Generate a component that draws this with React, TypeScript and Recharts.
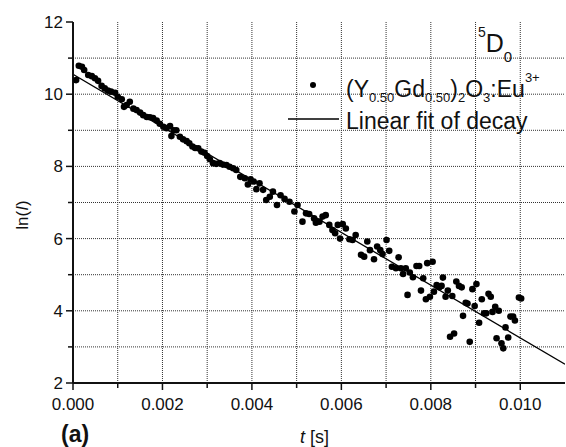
import React from "react";
import {
  ComposedChart,
  Scatter,
  Line,
  XAxis,
  YAxis,
  CartesianGrid,
} from "recharts";

// decay time t [s]
const times = [
  0.00007, 0.00013, 0.0002, 0.00025, 0.00034, 0.00042, 0.00049, 0.00056, 0.00064, 0.00071,
  0.00078, 0.00085, 0.00094, 0.001, 0.00109, 0.00114, 0.0012, 0.00127, 0.00135, 0.00142,
  0.0015, 0.00157, 0.00165, 0.00172, 0.00179, 0.00187, 0.00194, 0.00202, 0.00209, 0.00217,
  0.0022, 0.00225, 0.00231, 0.00239, 0.00246, 0.00254, 0.0026, 0.00267, 0.00273, 0.0028,
  0.00287, 0.00294, 0.003, 0.00306, 0.00313, 0.0032, 0.00328, 0.00335, 0.00343, 0.0035,
  0.00358, 0.00365, 0.00374, 0.00384, 0.00391, 0.00397, 0.00404, 0.0041, 0.00417, 0.00425,
  0.00432, 0.0044, 0.00447, 0.00456, 0.00464, 0.00473, 0.00484, 0.00495, 0.00502, 0.00513,
  0.00521, 0.00528, 0.00539, 0.00543, 0.00551, 0.00558, 0.00565, 0.00573, 0.0058, 0.00586,
  0.00592, 0.00597, 0.00603, 0.0061, 0.00618, 0.00625, 0.00632, 0.00644, 0.00651, 0.00658,
  0.00664, 0.00673, 0.0068, 0.00687, 0.00692, 0.00701, 0.00707, 0.00713, 0.00722, 0.00728,
  0.00733, 0.00738, 0.00744, 0.00748, 0.00753, 0.0076, 0.00768, 0.00774, 0.00778, 0.00783,
  0.00789, 0.00792, 0.00798, 0.00804, 0.00807, 0.00813, 0.00819, 0.00824, 0.00827, 0.00833,
  0.00838, 0.00843, 0.00848, 0.00852, 0.00857, 0.00863, 0.00869, 0.00872, 0.00878, 0.00882,
  0.00887, 0.00893, 0.00898, 0.00902, 0.00908, 0.00914, 0.00919, 0.00924, 0.00929, 0.00934,
  0.00938, 0.00944, 0.00947, 0.00952, 0.00958, 0.00962, 0.00967, 0.00973, 0.00978, 0.00984,
  0.00988, 0.00997, 0.01002,
];

// ln(I) measured
const lnI = [
  10.39, 10.79, 10.76, 10.67, 10.53, 10.5, 10.44, 10.37, 10.23, 10.16,
  10.1, 10.07, 10.04, 9.93, 9.86, 9.65, 9.7, 9.79, 9.6, 9.56,
  9.49, 9.42, 9.37, 9.36, 9.34, 9.27, 9.18, 9.1, 9.06, 9.12,
  8.84, 9.0, 9.0, 8.82, 8.75, 8.7, 8.64, 8.55, 8.51, 8.5,
  8.41, 8.38, 8.29, 8.2, 8.09, 8.07, 8.09, 8.05, 8.04, 7.99,
  7.95, 7.9, 7.71, 7.67, 7.5, 7.64, 7.58, 7.37, 7.53, 7.35,
  7.07, 7.16, 7.3, 6.93, 7.2, 7.1, 7.02, 6.75, 6.93, 6.47,
  6.7, 6.68, 6.56, 6.44, 6.47, 6.61, 6.65, 6.38, 6.24, 6.15,
  6.38, 6.0, 6.4, 6.28, 5.98, 5.96, 6.1, 5.55, 5.5, 5.92,
  5.68, 5.43, 5.78, 5.68, 5.57, 5.96, 5.66, 5.22, 5.18, 5.48,
  5.18, 5.02, 5.18, 4.44, 5.06, 4.93, 5.24, 5.24, 4.56, 4.9,
  4.32, 5.32, 4.39, 5.36, 4.53, 4.71, 4.65, 4.69, 4.92, 4.39,
  4.56, 3.28, 4.41, 3.37, 4.81, 4.69, 4.65, 3.86, 4.22, 4.2,
  3.14, 4.6, 4.13, 4.74, 3.67, 4.32, 3.93, 3.93, 4.47, 4.39,
  3.97, 4.11, 3.24, 4.0, 3.1, 2.96, 3.54, 3.26, 3.84, 3.84,
  3.73, 4.37, 4.34,
];

// linear fit end points
const fitTimes = [0, 0.011];
const fitValues = [10.55, 2.52];

const xTicks = [0, 0.001, 0.002, 0.003, 0.004, 0.005, 0.006, 0.007, 0.008, 0.009, 0.01, 0.011];
const yTicks = [2, 3, 4, 5, 6, 7, 8, 9, 10, 11, 12];
const xGrid = [0.001, 0.002, 0.003, 0.004, 0.005, 0.006, 0.007, 0.008, 0.009, 0.01];
const yGrid = [3, 4, 5, 6, 7, 8, 9, 10, 11];

const points = times.map((t, i) => ({ t, v: lnI[i] }));
const fit = fitTimes.map((t, i) => ({ t, v: fitValues[i] }));

const FONT = '"Liberation Sans", Arial, Helvetica, sans-serif';

function XTick(props: any) {
  const { x, y, payload } = props;
  const major = Math.round(payload.value * 1000) % 2 === 0;
  if (payload.value > 0.0105) return null;
  return (
    <g>
      <line x1={x} x2={x} y1={y} y2={y + (major ? 7 : 5)} stroke="#111" strokeWidth={1.5} />
      {major && (
        <text x={x} y={y + 27} textAnchor="middle" fontSize={17} fill="#111" fontFamily={FONT}>
          {payload.value.toFixed(3)}
        </text>
      )}
    </g>
  );
}

function YTick(props: any) {
  const { x, y, payload } = props;
  const major = payload.value % 2 === 0;
  return (
    <g>
      <line x1={x - (major ? 7 : 5)} x2={x} y1={y} y2={y} stroke="#111" strokeWidth={1.5} />
      {major && (
        <text x={x - 10} y={y + 6} textAnchor="end" fontSize={17} fill="#111" fontFamily={FONT}>
          {payload.value}
        </text>
      )}
    </g>
  );
}

function Dot(props: any) {
  return <circle cx={props.cx} cy={props.cy} r={3.3} fill="#000" />;
}

export default function App() {
  return (
    <div style={{ position: "absolute", left: 0, top: 0, width: 566, height: 447, background: "#fff", fontFamily: FONT }}>
      <ComposedChart
        width={566}
        height={447}
        margin={{ top: 22, right: 1, left: 0, bottom: 0 }}
      >
        <CartesianGrid
          stroke="#333"
          strokeDasharray="1 1"
          horizontalValues={yGrid}
          verticalValues={xGrid}
        />
        <XAxis
          type="number"
          dataKey="t"
          domain={[0, 0.011]}
          ticks={xTicks}
          allowDataOverflow
          height={64}
          tickSize={0}
          tickMargin={0}
          tick={<XTick />}
          axisLine={{ stroke: "#111", strokeWidth: 2 }}
          interval={0}
        />
        <YAxis
          type="number"
          dataKey="v"
          domain={[2, 12]}
          ticks={yTicks}
          allowDataOverflow
          width={73}
          tickSize={0}
          tickMargin={0}
          tick={<YTick />}
          axisLine={{ stroke: "#111", strokeWidth: 2 }}
          interval={0}
        />
        <Scatter data={points} dataKey="v" shape={<Dot />} isAnimationActive={false} />
        <Line
          data={fit}
          dataKey="v"
          type="linear"
          stroke="#000"
          strokeWidth={1.3}
          dot={false}
          activeDot={false}
          isAnimationActive={false}
        />
      </ComposedChart>
      <svg
        width={566}
        height={447}
        style={{ position: "absolute", left: 0, top: 0, pointerEvents: "none" }}
        fontFamily={FONT}
      >
        <text x={478} y={52} fontSize={25} fill="#111">
          <tspan fontSize={14} dy={-15}>5</tspan>
          <tspan dy={15}>D</tspan>
          <tspan fontSize={15} dy={10}>0</tspan>
        </text>
        <circle cx={313} cy={85} r={3} fill="#000" />
        <text x={346} y={97} fontSize={23} fill="#111">
          (Y<tspan fontSize={13} dy={5}>0.50</tspan>
          <tspan dy={-5}>Gd</tspan>
          <tspan fontSize={13} dy={5}>0.50</tspan>
          <tspan dy={-5}>)</tspan>
          <tspan fontSize={13} dy={5}>2</tspan>
          <tspan dy={-5}>O</tspan>
          <tspan fontSize={13} dy={5}>3</tspan>
          <tspan dy={-5}>:Eu</tspan>
          <tspan fontSize={13} dy={-15}>3+</tspan>
        </text>
        <line x1={288} x2={339} y1={119} y2={119} stroke="#000" strokeWidth={1.3} />
        <text x={346} y={129} fontSize={23} fill="#111">Linear fit of decay</text>
        <text x={28} y={215} fontSize={17} fill="#111" textAnchor="middle" transform="rotate(-90 28 215)">
          ln(<tspan fontStyle="italic">I</tspan>)
        </text>
        <text x={300} y={443} fontSize={18} fill="#111">
          <tspan fontStyle="italic">t</tspan> [s]
        </text>
        <text x={61} y={442} fontSize={23} fontWeight="bold" fill="#111">(a)</text>
      </svg>
    </div>
  );
}
